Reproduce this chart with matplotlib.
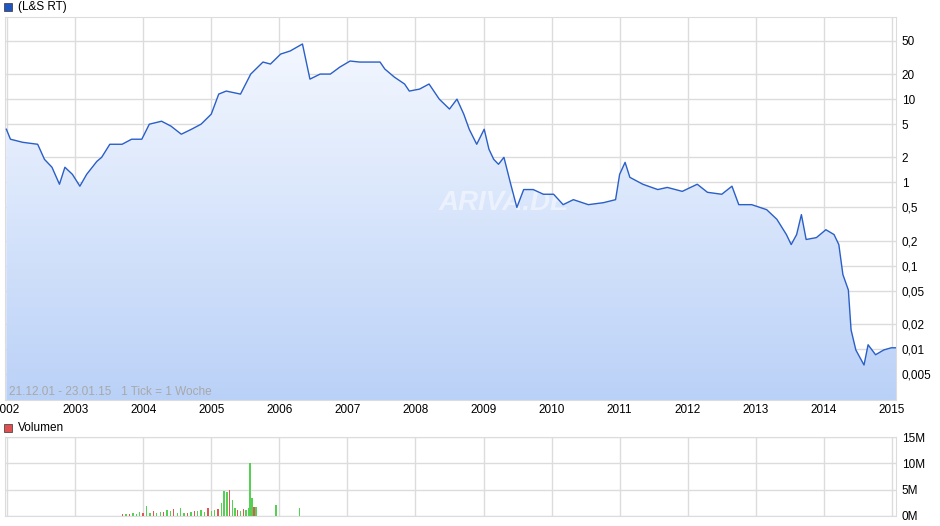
import matplotlib
matplotlib.use("Agg")
import matplotlib.pyplot as plt
import numpy as np
from matplotlib.patches import Rectangle

dates = [2001.99,2002.05,2002.23,2002.45,2002.55,2002.66,2002.77,2002.85,2002.96,2003.07,2003.17,2003.32,2003.39,2003.51,2003.69,2003.83,2003.98,2004.09,2004.27,2004.41,2004.56,2004.71,2004.85,2005.0,2005.11,2005.22,2005.43,2005.58,2005.76,2005.87,2006.02,2006.16,2006.34,2006.45,2006.60,2006.75,2006.89,2007.04,2007.18,2007.48,2007.55,2007.69,2007.84,2007.91,2008.06,2008.20,2008.35,2008.50,2008.61,2008.71,2008.79,2008.90,2009.01,2009.08,2009.15,2009.22,2009.30,2009.40,2009.49,2009.59,2009.73,2009.88,2010.03,2010.17,2010.32,2010.54,2010.76,2010.94,2011.0,2011.08,2011.15,2011.34,2011.56,2011.70,2011.92,2012.14,2012.29,2012.50,2012.65,2012.75,2012.94,2013.16,2013.31,2013.45,2013.52,2013.60,2013.67,2013.74,2013.89,2014.03,2014.15,2014.22,2014.28,2014.36,2014.40,2014.47,2014.59,2014.65,2014.76,2014.88,2014.99,2015.06]
prices = [4.35,3.3,3.03,2.87,1.89,1.52,0.95,1.52,1.25,0.9,1.25,1.79,2.0,2.87,2.87,3.3,3.3,5.0,5.43,4.73,3.79,4.35,5.0,6.6,11.5,12.5,11.5,20,27.9,26.4,34.8,37.9,46,17.4,20,20,24.3,28.7,27.9,27.9,23,18.4,15.2,12.5,13.2,15.2,10,7.6,10,6.6,4.35,2.87,4.35,2.5,1.89,1.65,2.0,0.95,0.5,0.82,0.82,0.72,0.72,0.54,0.62,0.54,0.57,0.62,1.25,1.74,1.15,0.95,0.82,0.87,0.78,0.95,0.76,0.72,0.9,0.54,0.54,0.47,0.36,0.236,0.179,0.236,0.41,0.206,0.217,0.27,0.236,0.179,0.078,0.051,0.0169,0.0097,0.0064,0.0112,0.0085,0.0097,0.0103,0.0103]

vol_dates = [2003.70,2003.75,2003.80,2003.85,2003.90,2003.95,2004.00,2004.05,2004.10,2004.15,2004.20,2004.25,2004.30,2004.35,2004.40,2004.45,2004.50,2004.55,2004.60,2004.65,2004.70,2004.75,2004.80,2004.85,2004.90,2004.95,2005.00,2005.05,2005.10,2005.15,2005.19,2005.23,2005.27,2005.31,2005.35,2005.39,2005.43,2005.47,2005.51,2005.55,2005.57,2005.60,2005.63,2005.66,2005.95,2006.30]
vol_values = [0.3,0.4,0.3,0.5,0.4,0.8,0.6,1.9,0.5,1.0,0.6,0.8,0.7,1.2,0.9,1.3,0.6,1.5,0.5,0.6,0.7,0.9,1.0,1.2,0.8,1.5,1.0,1.1,1.3,2.5,4.8,4.5,5.0,3.0,1.5,1.2,1.0,1.3,1.1,1.5,10.0,3.5,1.8,1.8,2.1,1.5]
vol_up = [0,1,0,1,1,1,0,1,1,0,1,1,0,1,1,0,1,1,1,0,1,0,1,1,1,0,1,1,0,1,1,1,0,1,1,0,1,0,1,1,1,1,0,1,1,1]

year_ticks = list(range(2002, 2016))
price_ticks = [0.005,0.01,0.02,0.05,0.1,0.2,0.5,1,2,5,10,20,50]
price_labels = ["0,005","0,01","0,02","0,05","0,1","0,2","0,5","1","2","5","10","20","50"]
vol_ticks = [0,5,10,15]
vol_labels = ["0M","5M","10M","15M"]

plt.rcParams['font.family'] = ['Liberation Sans', 'DejaVu Sans']
fig = plt.figure(figsize=(9.4, 5.26), dpi=100)
ax = fig.add_axes([5/940, 1-400/526, 891/940, 383/526])
xmin, xmax = 2001.97, 2015.06
ymin, ymax = 0.00243, 97
ax.set_xlim(xmin, xmax)
ax.set_yscale('log')
ax.set_ylim(ymin, ymax)

# gradient fill under line
grad = np.linspace(0, 1, 256).reshape(-1, 1)
c_top = np.array([0.97, 0.98, 1.0])
c_bot = np.array([0.73, 0.82, 0.97])
img = c_top + (c_bot - c_top) * grad
img = img.reshape(256, 1, 3)
poly = ax.fill_between(dates, prices, ymin, color='none')
im = ax.imshow(img, aspect='auto', extent=[xmin, xmax, ymin, ymax], origin='upper', zorder=1,
               transform=ax.transData)
# imshow on log axis: use axes coords instead
im.remove()
im = ax.imshow(img, aspect='auto', extent=[0, 1, 0, 1], transform=ax.transAxes, zorder=1)
im.set_clip_path(poly.get_paths()[0], transform=ax.transData)
ax.set_xlim(xmin, xmax); ax.set_ylim(ymin, ymax)
ax.plot(dates, prices, color='#2a5fc8', lw=1.0, zorder=3)

ax.set_xticks(year_ticks)
ax.set_xticklabels([str(y) for y in year_ticks])
ax.set_yticks(price_ticks)
ax.set_yticklabels(price_labels)
ax.minorticks_off()
ax.yaxis.tick_right()
ax.grid(True, color='#dcdcdc', lw=1, zorder=0)
ax.set_axisbelow(True)
ax.tick_params(length=0, labelsize=8.5, pad=4)
ax.tick_params(axis='x', pad=3)
for s in ax.spines.values():
    s.set_color('#dcdcdc')
ax.text(0.005, 0.005, "21.12.01 - 23.01.15   1 Tick = 1 Woche", transform=ax.transAxes,
        fontsize=8.5, color='#a8a8a8', va='bottom', ha='left', zorder=4)
ax.text(0.56, 0.515, "ARIVA.DE", transform=ax.transAxes, fontsize=20, color='white',
        alpha=0.5, style='italic', weight='bold', ha='center', va='center', zorder=2)

fig.patches.append(Rectangle((4/940, 1-11/526), 8/940, 8/526, transform=fig.transFigure,
                             facecolor='#1f56c0', edgecolor='#333333', lw=0.5))
fig.text(18/940, 1-7/526, "(L&S RT)", fontsize=8.5, va='center')
fig.patches.append(Rectangle((4/940, 1-432/526), 8/940, 8/526, transform=fig.transFigure,
                             facecolor='#e05050', edgecolor='#333333', lw=0.5))
fig.text(18/940, 1-428/526, "Volumen", fontsize=8.5, va='center')

vax = fig.add_axes([5/940, 1-516/526, 891/940, 79/526])
colors = ['#55d055' if u else '#e05555' for u in vol_up]
vax.bar(vol_dates, vol_values, width=0.02, color=colors, zorder=3)
vax.set_xlim(xmin, xmax)
vax.set_ylim(0, 15)
vax.set_xticks(year_ticks)
vax.set_xticklabels([])
vax.set_yticks(vol_ticks)
vax.set_yticklabels(vol_labels)
vax.yaxis.tick_right()
vax.grid(True, color='#dcdcdc', lw=1, zorder=0)
vax.tick_params(length=0, labelsize=8.5, pad=4)
for s in vax.spines.values():
    s.set_color('#dcdcdc')

fig.savefig("out.png", dpi=100)
